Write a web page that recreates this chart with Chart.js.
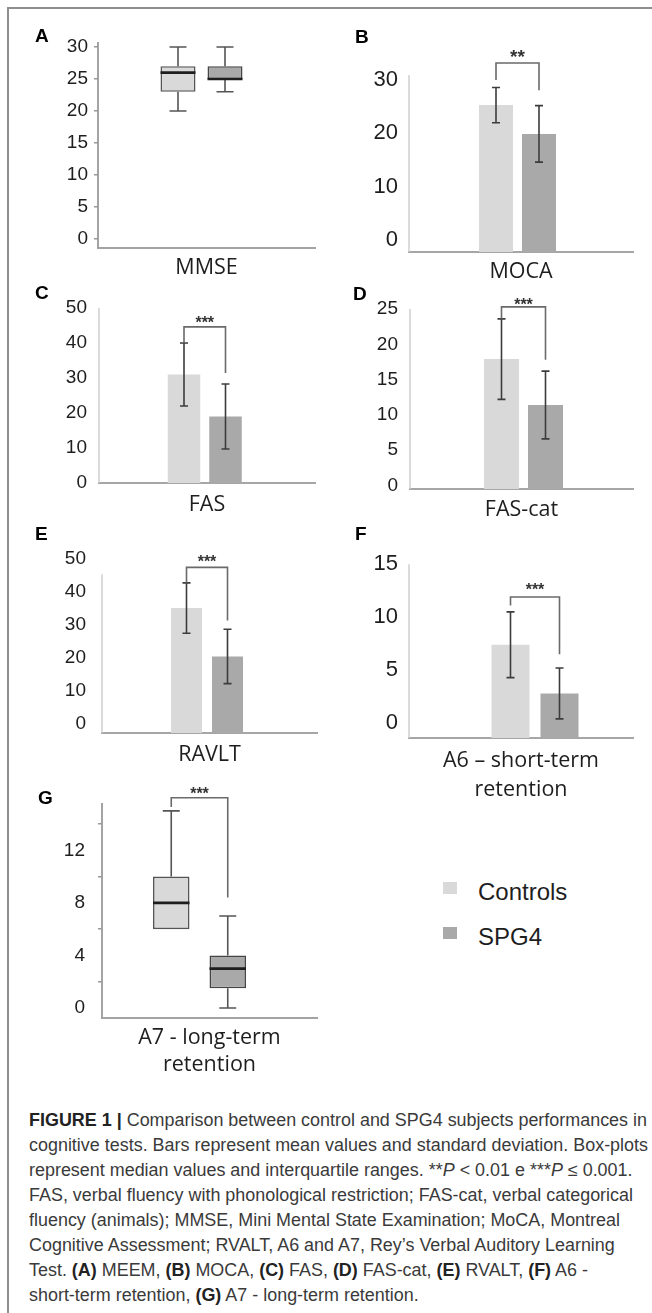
<!DOCTYPE html>
<html>
<head>
<meta charset="utf-8">
<script src="https://cdn.jsdelivr.net/npm/chart.js@4.4.1/dist/chart.umd.min.js"></script>
<style>
html,body{margin:0;padding:0;background:#fff;}
body{width:652px;height:1313px;position:relative;overflow:hidden;}
#frame{position:absolute;left:7px;top:7px;width:700px;height:1400px;border-left:2px solid #8e8e8e;border-top:2px solid #8e8e8e;}
canvas{position:absolute;}
.lt{position:absolute;font:bold 19px "Liberation Sans",Arial,sans-serif;color:#000;line-height:19px;}
.sq{position:absolute;width:14px;height:12px;}
.lg{position:absolute;font:24px "Liberation Sans",Arial,sans-serif;color:#1e1e1e;line-height:24px;white-space:nowrap;}
#cap{position:absolute;left:29px;top:1108px;font:17.5px "Liberation Sans",Arial,sans-serif;color:#3a3a3a;line-height:25px;transform-origin:0 0;}
#cap div{white-space:nowrap;}
#cap b{color:#222;}
</style>
</head>
<body>
<div id="frame"></div>
<script>
// ---------- DATA ----------
const seriesNames = ['Controls', 'SPG4'];
const seriesColors = ['#d9d9d9', '#a9a9a9'];

// Bar panels (mean ± SD): B, C, D, E, F
const barTests = ['MOCA', 'FAS', 'FAS-cat', 'RAVLT', ['A6 \u2013 short-term', 'retention']];
const controlsMean = [25.3, 31.0, 17.9, 35.0, 7.4];
const controlsSD   = [3.3, 9.0, 5.7, 7.6, 3.1];
const spg4Mean     = [19.9, 19.0, 11.4, 20.4, 2.8];
const spg4SD       = [5.3, 9.3, 4.8, 8.2, 2.4];

// Box-plot panels: A (MMSE), G (A7)
const boxTests = ['MMSE', ['A7 - long-term', 'retention']];
const controlsMin    = [20, 6];
const controlsQ1     = [23, 6];
const controlsMedian = [26, 8];
const controlsQ3     = [27, 10];
const controlsMax    = [30, 15];
const spg4Min        = [23, 0];
const spg4Q1         = [25, 1.5];
const spg4Median     = [25, 3];
const spg4Q3         = [27, 4];
const spg4Max        = [30, 7];

// Significance brackets (panels B, C, D, E, F, G), in axis units
const sigLabels   = ['**', '***', '***', '***', '***', '***'];
const sigTop      = [33.2, 44.6, 25.3, 47.3, 11.9, 16.0];
const sigLeftEnd  = [30.0, 40.0, 23.6, 42.6, 11.1, 15.3];
const sigRightEnd = [28.1, 31.4, 17.8, 31.25, 6.5, 8.4];

// Tick labels
const ticksA = [0, 5, 10, 15, 20, 25, 30];
const ticksB = [0, 10, 20, 30];
const ticksC = [0, 10, 20, 30, 40, 50];
const ticksD = [0, 5, 10, 15, 20, 25];
const ticksE = [0, 10, 20, 30, 40, 50];
const ticksF = [0, 5, 10, 15];
const ticksG = [0, 4, 8, 12];
const minorMarksG = [2, 6, 10, 14];

const panelLetters = ['A', 'B', 'C', 'D', 'E', 'F', 'G'];

// ---------- DRAWING ----------
function extrasFor(p) {
  return {
    id: 'extras',
    beforeDatasetsDraw(chart) {
      const {ctx, chartArea: a, scales: {y}} = chart;
      const top = (p.yLineTop != null) ? y.getPixelForValue(p.yLineTop) : a.top;
      ctx.save();
      ctx.strokeStyle = p.yLineColor; ctx.lineWidth = p.yLineWidth;
      ctx.beginPath(); ctx.moveTo(a.left, a.bottom); ctx.lineTo(a.left, top); ctx.stroke();
      ctx.restore();
    },
    afterDatasetsDraw(chart) {
      const {ctx, scales: {y}} = chart;
      const py = v => y.getPixelForValue(v);
      ctx.save();
      (p.errors || []).forEach((e, i) => {
        const bar = chart.getDatasetMeta(i).data[0];
        const x = bar.x, y1 = py(e.mean + e.sd), y2 = py(e.mean - e.sd), c = 4;
        ctx.strokeStyle = '#3c3c3c'; ctx.lineWidth = 1.6;
        ctx.beginPath();
        ctx.moveTo(x, y1); ctx.lineTo(x, y2);
        ctx.moveTo(x - c, y1); ctx.lineTo(x + c, y1);
        ctx.moveTo(x - c, y2); ctx.lineTo(x + c, y2);
        ctx.stroke();
      });
      (p.boxes || []).forEach((b, i) => {
        const bar = chart.getDatasetMeta(i).data[0];
        const x = bar.x, hw = bar.width / 2, c = 8.5;
        ctx.strokeStyle = '#555'; ctx.lineWidth = 1.6;
        ctx.beginPath();
        if (b.max > b.q3) {
          ctx.moveTo(x, py(b.q3)); ctx.lineTo(x, py(b.max));
          ctx.moveTo(x - c, py(b.max)); ctx.lineTo(x + c, py(b.max));
        }
        if (b.min < b.q1) {
          ctx.moveTo(x, py(b.q1)); ctx.lineTo(x, py(b.min));
          ctx.moveTo(x - c, py(b.min)); ctx.lineTo(x + c, py(b.min));
        }
        ctx.stroke();
        ctx.strokeStyle = '#1e1e1e'; ctx.lineWidth = 2.6;
        ctx.beginPath(); ctx.moveTo(x - hw, py(b.median)); ctx.lineTo(x + hw, py(b.median)); ctx.stroke();
      });
      if (p.bracket) {
        const b = p.bracket;
        const xl = chart.getDatasetMeta(0).data[0].x, xr = chart.getDatasetMeta(1).data[0].x;
        const yt = py(b.top);
        ctx.strokeStyle = '#6a6a6a'; ctx.lineWidth = 1.6;
        ctx.beginPath();
        ctx.moveTo(xl, py(b.left)); ctx.lineTo(xl, yt); ctx.lineTo(xr, yt); ctx.lineTo(xr, py(b.right));
        ctx.stroke();
        ctx.fillStyle = '#333';
        ctx.font = 'bold ' + b.size + 'px "Liberation Sans", Arial, sans-serif';
        ctx.textAlign = 'center'; ctx.textBaseline = 'alphabetic';
        ctx.fillText(b.label, (xl + xr) / 2, yt - b.gap + 0.57 * b.size);
      }
      ctx.restore();
    }
  };
}

function makeChart(p) {
  const yW = 70, padR = 8;
  const left = p.area.l - yW, top = p.area.t - p.padT;
  const width = Math.round(p.area.r + padR - left), height = Math.round(p.area.b + p.xH - top);
  const cv = document.createElement('canvas');
  cv.width = width; cv.height = height;
  cv.style.left = left + 'px'; cv.style.top = top + 'px';
  cv.style.width = width + 'px'; cv.style.height = height + 'px';
  document.body.appendChild(cv);
  const plotW = p.area.r - p.area.l;
  const xmin = -(p.cx - p.area.l) / plotW;
  const lh = p.titleLH;
  const pb = (top + height) - p.titleY - lh / 2;
  const tl = p.marks ? 4 : 0;
  const datasets = p.datasets.map(d => Object.assign({
    categoryPercentage: 2 * p.sp / plotW,
    barPercentage: p.bw / p.sp
  }, d));
  new Chart(cv, {
    type: 'bar',
    data: {labels: [0], datasets},
    options: {
      responsive: false, animation: false, devicePixelRatio: 1, events: [],
      layout: {padding: {top: p.padT, right: padR, left: 0, bottom: 0}, autoPadding: false},
      plugins: {legend: {display: false}, tooltip: {enabled: false}},
      scales: {
        x: {
          type: 'linear', min: xmin, max: xmin + 1, offset: false,
          afterBuildTicks: s => { s.ticks = []; },
          afterFit: s => { s.height = p.xH; },
          ticks: {display: false},
          grid: {display: false, drawTicks: false},
          border: {display: true, color: p.xLineColor, width: 2},
          title: {display: true, text: p.title, color: '#1e1e1e',
            font: {family: '"Open Sans", sans-serif', size: 21.5, lineHeight: lh / 21.5},
            padding: {top: 0, bottom: pb}}
        },
        y: {
          min: p.yMin, max: p.yMax,
          afterBuildTicks: s => { s.ticks = p.yTicks.map(v => ({value: v})); },
          afterFit: s => { s.width = yW; },
          ticks: {
            color: '#1e1e1e', padding: p.tickGap - tl,
            font: {family: '"Liberation Sans", Arial, sans-serif', size: p.tickSize},
            callback: p.tickCb || (v => String(v))
          },
          grid: {display: !!p.marks, drawOnChartArea: false, drawTicks: !!p.marks, tickLength: 4,
            lineWidth: 1.5, color: p.markColor || '#999'},
          border: {display: false}
        }
      }
    },
    plugins: [extrasFor(p)]
  });
}

function barPanel(i, geo) {
  return Object.assign({
    datasets: [
      {label: seriesNames[0], data: [controlsMean[i]], backgroundColor: seriesColors[0], base: geo.yMin},
      {label: seriesNames[1], data: [spg4Mean[i]], backgroundColor: seriesColors[1], base: geo.yMin}
    ],
    errors: [{mean: controlsMean[i], sd: controlsSD[i]}, {mean: spg4Mean[i], sd: spg4SD[i]}],
    bracket: {label: sigLabels[i], top: sigTop[i], left: sigLeftEnd[i], right: sigRightEnd[i],
      size: geo.starSize || 16, gap: geo.starGap || 9},
    title: barTests[i],
    yLineColor: '#cfcfcf', yLineWidth: 1.5, xLineColor: '#a6a6a6'
  }, geo);
}

function boxPanel(i, geo) {
  return Object.assign({
    datasets: [
      {label: seriesNames[0], data: [[controlsQ1[i], controlsQ3[i]]], backgroundColor: seriesColors[0],
        borderColor: '#555', borderWidth: 1.6, borderSkipped: false},
      {label: seriesNames[1], data: [[spg4Q1[i], spg4Q3[i]]], backgroundColor: seriesColors[1],
        borderColor: '#444', borderWidth: 1.6, borderSkipped: false}
    ],
    boxes: [
      {min: controlsMin[i], q1: controlsQ1[i], median: controlsMedian[i], q3: controlsQ3[i], max: controlsMax[i]},
      {min: spg4Min[i], q1: spg4Q1[i], median: spg4Median[i], q3: spg4Q3[i], max: spg4Max[i]}
    ],
    title: boxTests[i],
    yLineColor: '#9a9a9a', yLineWidth: 1.8, xLineColor: '#a3a3a3', marks: true
  }, geo);
}

// A
makeChart(boxPanel(0, {area: {l: 98, t: 42, r: 315, b: 248}, yMin: -1.41, yMax: 30.78, yTicks: ticksA,
  tickSize: 19, tickGap: 10, padT: 20, xH: 42, titleY: 268, titleLH: 26, cx: 201.5, sp: 47, bw: 35}));
// B
makeChart(barPanel(0, {area: {l: 409, t: 75, r: 633, b: 252}, yMin: -2.25, yMax: 30.94, yTicks: ticksB,
  tickSize: 22, tickGap: 11, padT: 40, xH: 42, titleY: 272, titleLH: 26, cx: 517.5, sp: 43, bw: 34,
  starSize: 19, starGap: 11}));
// C
makeChart(barPanel(1, {area: {l: 99, t: 308, r: 315, b: 483}, yMin: 0, yMax: 50, yTicks: ticksC,
  tickSize: 19, tickGap: 12, padT: 25, xH: 42, titleY: 505, titleLH: 26, cx: 204.75, sp: 41.5, bw: 32.5,
  starGap: 8}));
// D
makeChart(barPanel(2, {area: {l: 410, t: 309, r: 633, b: 488.5}, yMin: -0.5, yMax: 25, yTicks: ticksD,
  tickSize: 19, tickGap: 12, padT: 25, xH: 42, titleY: 510, titleLH: 26, cx: 523.5, sp: 44, bw: 35,
  starGap: 6}));
// E
makeChart(barPanel(3, {area: {l: 102, t: 556, r: 317, b: 733}, yMin: -2.7, yMax: 50, yTicks: ticksE,
  tickSize: 19, tickGap: 16, padT: 25, xH: 42, titleY: 755, titleLH: 26, cx: 207, sp: 41, bw: 31,
  yLineTop: 45.2}));
// F
makeChart(barPanel(4, {area: {l: 409, t: 560, r: 633, b: 738}, yMin: -1.4, yMax: 15, yTicks: ticksF,
  tickSize: 22, tickGap: 11, padT: 20, xH: 70, titleY: 790, titleLH: 29, cx: 535, sp: 49, bw: 38,
  starGap: 11}));
// G
const gTicks = ticksG.concat(minorMarksG).sort((a, b) => a - b);
makeChart(Object.assign(boxPanel(1, {area: {l: 102, t: 803, r: 317, b: 1018}, yMin: -0.76, yMax: 15.6,
  yTicks: gTicks, tickCb: v => ticksG.includes(v) ? String(v) : '',
  markColor: ctx => (ctx.tick && minorMarksG.includes(ctx.tick.value)) ? '#999' : 'rgba(0,0,0,0)',
  tickSize: 19, tickGap: 17, padT: 30, xH: 70, titleY: 1065, titleLH: 27, cx: 199.5, sp: 56.5, bw: 36.5}),
  {bracket: {label: sigLabels[5], top: sigTop[5], left: sigLeftEnd[5], right: sigRightEnd[5], size: 16, gap: 8}}));

// Panel letters
const letterPos = [[35, 35], [355, 36], [35, 292], [353, 293], [35, 533], [355, 533], [38, 797]];
panelLetters.forEach((L, i) => {
  const d = document.createElement('div');
  d.className = 'lt'; d.textContent = L;
  d.style.left = letterPos[i][0] + 'px'; d.style.top = (letterPos[i][1] - 9.5) + 'px';
  document.body.appendChild(d);
});

// Legend
const legendY = [887.5, 932.5];
seriesNames.forEach((n, i) => {
  const s = document.createElement('div');
  s.className = 'sq'; s.style.background = seriesColors[i];
  s.style.left = '443px'; s.style.top = (legendY[i] - 6) + 'px';
  document.body.appendChild(s);
  const t = document.createElement('div');
  t.className = 'lg'; t.textContent = n;
  t.style.left = '478px'; t.style.top = (legendY[i] + 4 - 11.7) + 'px';
  document.body.appendChild(t);
});
</script>
<div id="cap">
<div><b>FIGURE 1 |</b> Comparison between control and SPG4 subjects performances in</div>
<div>cognitive tests. Bars represent mean values and standard deviation. Box-plots</div>
<div>represent median values and interquartile ranges. **<i>P</i> &lt; 0.01 e ***<i>P</i> &le; 0.001.</div>
<div>FAS, verbal fluency with phonological restriction; FAS-cat, verbal categorical</div>
<div>fluency (animals); MMSE, Mini Mental State Examination; MoCA, Montreal</div>
<div>Cognitive Assessment; RVALT, A6 and A7, Rey&rsquo;s Verbal Auditory Learning</div>
<div>Test. <b>(A)</b> MEEM, <b>(B)</b> MOCA, <b>(C)</b> FAS, <b>(D)</b> FAS-cat, <b>(E)</b> RVALT, <b>(F)</b> A6 -</div>
<div>short-term retention, <b>(G)</b> A7 - long-term retention.</div>
</div>
<script>
// fit caption line width to the reference column width
(function () {
  const cap = document.getElementById('cap');
  const first = cap.firstElementChild;
  const r = document.createRange(); r.selectNodeContents(first);
  const w = r.getBoundingClientRect().width;
  if (w > 0) cap.style.transform = 'scaleX(' + (618 / w) + ')';
})();
</script>
</body>
</html>
